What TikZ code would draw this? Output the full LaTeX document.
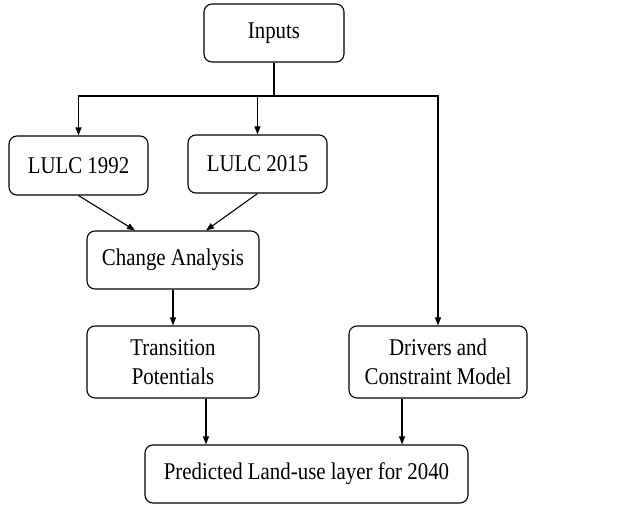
\documentclass[tikz,border=0pt]{standalone}
\usepackage{fontspec}
\setmainfont{Liberation Serif}[FakeStretch=0.87]
\usetikzlibrary{arrows.meta}
\begin{document}
\begin{tikzpicture}[x=1pt,y=1pt,
  box/.style={draw, line width=1.1pt, rounded corners=8pt, align=center, inner sep=0pt,
    font=\fontsize{24}{28.5}\selectfont},
  arr/.style={line width=1.1pt, -{Triangle[length=8pt,width=6pt]}},
  ln/.style={line width=1.1pt}]
\useasboundingbox (0,0) rectangle (639,-505);
\node[box, minimum width=140pt, minimum height=58pt] (inputs) at (274,-33) {Inputs};
\node[box, minimum width=139pt, minimum height=59pt] (l92) at (78.5,-165.5) {LULC 1992};
\node[box, minimum width=139pt, minimum height=58pt] (l15) at (257.5,-164) {LULC 2015};
\node[box, minimum width=172pt, minimum height=58pt] (ca) at (173,-260) {Change Analysis};
\node[box, minimum width=172pt, minimum height=72pt] (tp) at (173,-362) {Transition\\Potentials};
\node[box, minimum width=178pt, minimum height=72pt] (dc) at (438,-362) {Drivers and\\Constraint Model};
\node[box, minimum width=323pt, minimum height=58pt] (pr) at (306.5,-474) {Predicted Land-use layer for 2040};
\coordinate (j) at (274,-96);
\draw[ln] (inputs.south) -- (j);
\draw[ln] (l92.north |- j) -- (dc.north |- j);
\draw[arr] (j) -| (l92.north);
\draw[arr] (j) -| (l15.north);
\draw[arr] (j) -| (dc.north);
\draw[arr] (l92.south) -- ([xshift=-38pt]ca.north);
\draw[arr] (l15.south) -- ([xshift=33pt]ca.north);
\draw[arr] (ca.south) -- (tp.north);
\draw[arr] ([xshift=33pt]tp.south) -- ([xshift=33pt]tp.south |- pr.north);
\draw[arr] ([xshift=-36pt]dc.south) -- ([xshift=-36pt]dc.south |- pr.north);
\end{tikzpicture}
\end{document}
